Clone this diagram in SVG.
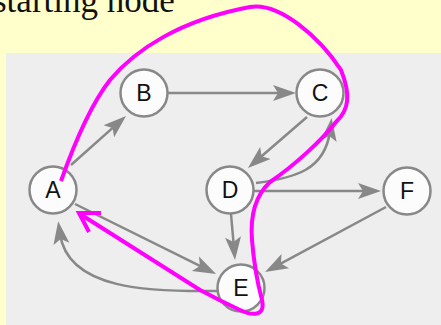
<svg xmlns="http://www.w3.org/2000/svg" width="441" height="325" viewBox="0 0 441 325">
<style>
.edge{fill:none;stroke:#888;stroke-width:2.5;marker-end:url(#ah)}
.node circle{fill:#fcfcfc;stroke:#888;stroke-width:2.5}
.node text{font-family:"Liberation Sans",Arial,sans-serif;font-size:23px;fill:#111;text-anchor:middle}
.path{fill:none;stroke:#ff00ff;stroke-width:4}
</style>
<defs>
<marker id="ah" markerUnits="userSpaceOnUse" markerWidth="34" markerHeight="24" viewBox="-14 -12 34 24" refX="0" refY="0" orient="auto">
<path d="M13,0 L-10,-8 L-5,0 L-10,8 Z" fill="#888"/>
</marker>
</defs>
<rect x="0" y="0" width="441" height="325" fill="#ffffcc"/>
<text x="-7" y="12" font-family="'Liberation Serif','Times New Roman',serif" font-size="35" fill="#111">starting node</text>
<rect x="6" y="53" width="435" height="272" fill="#eeeeee"/>
<g id="edges">
<path class="edge" d="M71,165 L116.3,124.6"/>
<path class="edge" d="M168,93 L283,93"/>
<path class="edge" d="M307,117 L257.8,159.5"/>
<path class="edge" d="M256,183 C295,178 325,170 330,131"/>
<path class="edge" d="M254,191 L368,191"/>
<path class="edge" d="M231,214 L233.9,247"/>
<path class="edge" d="M386,207 L276.5,265.9"/>
<path class="edge" d="M75,204 L204.4,268.2"/>
<path class="edge" d="M218,291 C150,292 68,290 60,234"/>
</g>
<g id="A" class="node"><circle cx="53" cy="190" r="23.5"/><text x="53" y="198">A</text></g>
<g id="B" class="node"><circle cx="144" cy="93" r="23.5"/><text x="144" y="101">B</text></g>
<g id="C" class="node"><circle cx="320" cy="93" r="23.5"/><text x="320" y="101">C</text></g>
<g id="D" class="node"><circle cx="230" cy="190" r="23.5"/><text x="230" y="198">D</text></g>
<g id="F" class="node"><circle cx="407" cy="191" r="23.5"/><text x="407" y="199">F</text></g>
<g id="E" class="node"><circle cx="241" cy="288" r="23.5"/><text x="241" y="296">E</text></g>
<g id="traversal">
<path class="path" d="M61,181 C72,150 88,108 110,80 C135,50 180,20 250,7 C280,2 320,38 341,70 C351,95 349,110 336,122 C322,140 295,165 270,182 C255,196 250,215 252,240 C254,265 258,285 262,300 C266,318 250,315 240,310 C225,303 215,298 200,290 L80,214"/>
<path class="path" d="M101,213 L79,213 L89,232"/>
</g>
</svg>
